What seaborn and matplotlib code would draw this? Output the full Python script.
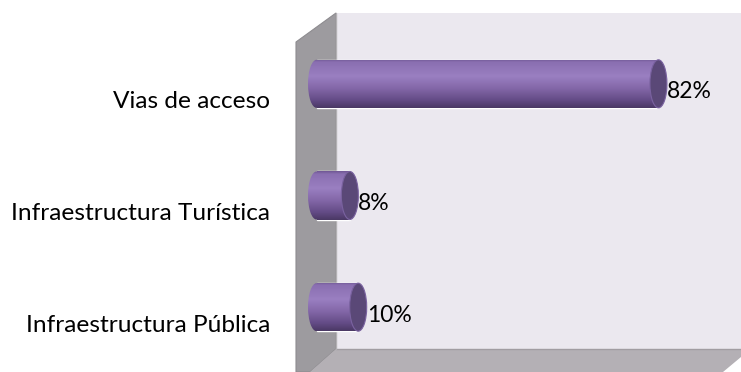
import numpy as np
import matplotlib
matplotlib.use("Agg")
import matplotlib.pyplot as plt
from matplotlib.patches import Polygon, Ellipse
from matplotlib.colors import LinearSegmentedColormap
from matplotlib.transforms import ScaledTranslation
import seaborn as sns

# Data
categories = ["Vias de acceso", "Infraestructura Turística", "Infraestructura Pública"]
values = [82, 8, 10]
value_labels = ["82%", "8%", "10%"]

sns.set_theme(style="white")
plt.rcParams["font.family"] = ["Lato", "DejaVu Sans"]

W, H = 741, 372
fig = plt.figure(figsize=(W / 100, H / 100), dpi=100)

# Background layer in pixel units: back wall, side wall and floor of the 3D box
bg = fig.add_axes([0, 0, 1, 1], zorder=0)
bg.set_xlim(0, W)
bg.set_ylim(H, 0)
bg.axis("off")
back_wall = Polygon([(336, 13), (W, 13), (W, 349), (336, 349)], closed=True,
                    facecolor="#ebe8ef", edgecolor="none")
side_wall = Polygon([(296, 42), (336, 13), (336, 349), (310, 372), (296, 372)], closed=True,
                    facecolor="#9d9b9f", edgecolor="#8e8c90", linewidth=0.8)
floor = Polygon([(336, 349), (W, 349), (W, 357), (723, 372), (310, 372)], closed=True,
                facecolor="#b4b0b5", edgecolor="none")
for p in (back_wall, side_wall, floor):
    bg.add_patch(p)
bg.plot([336, W], [349, 349], color="#a19da2", linewidth=1.0)
bg.plot([336, 336], [13, 349], color="#b3b1b4", linewidth=1.0)

# Plot axes: x in percent, 4.17 px per percent, zero at pixel 316.5
px_per_unit = 4.17
x0_px = 316.5
ax_left_px = 290
ax_top_px, ax_bot_px = 28, 363
ax = fig.add_axes([ax_left_px / W, 1 - ax_bot_px / H, 1 - ax_left_px / W,
                   (ax_bot_px - ax_top_px) / H], zorder=1)
ax.patch.set_alpha(0)

bar_w = 0.43
sns.barplot(x=values, y=categories, orient="h", color="#8064a2", width=bar_w,
            ax=ax, saturation=1)

xmin = -(x0_px - ax_left_px) / px_per_unit
xmax = (W - x0_px) / px_per_unit
cap_w = 17 / px_per_unit

# cylinder shading across the bar height (top -> bottom)
cyl = LinearSegmentedColormap.from_list("cyl", [
    (0.00, "#6f5694"), (0.06, "#8a6fb1"), (0.35, "#9a7fc1"),
    (0.60, "#8367a8"), (0.85, "#624a84"), (1.00, "#4a3864")])
grad = np.linspace(0, 1, 256).reshape(-1, 1)

for i, (patch, v) in enumerate(zip(ax.patches, values)):
    ytop, ybot = i - bar_w / 2, i + bar_w / 2
    img = ax.imshow(grad, cmap=cyl, aspect="auto", origin="upper",
                    extent=(0, v, ybot, ytop), zorder=2, interpolation="bilinear")
    img.set_clip_path(patch)
    # rounded left end of the cylinder
    left = Ellipse((0, i), cap_w, bar_w, facecolor="none", edgecolor="none")
    ax.add_patch(left)
    img2 = ax.imshow(grad, cmap=cyl, aspect="auto", origin="upper",
                     extent=(-cap_w / 2, 0.05, ybot, ytop), zorder=2, interpolation="bilinear")
    img2.set_clip_path(left)
    # visible right end face
    ax.add_patch(Ellipse((v, i), cap_w, bar_w, facecolor="#5a4877", edgecolor="#7a62a0",
                         linewidth=0.8, zorder=3, clip_on=False))
    # value label
    off = ScaledTranslation(0, -8 / 100, fig.dpi_scale_trans)
    ax.text(v + cap_w / 2, i, value_labels[i], ha="left", va="center", fontsize=16.5,
            color="black", transform=ax.transData + off, zorder=4)

ax.set_xlim(xmin, xmax)
ax.set_ylim(2.5, -0.5)
ax.set_xticks([])
ax.set_xlabel("")
ax.set_ylabel("")
for s in ax.spines.values():
    s.set_visible(False)
ax.tick_params(axis="y", length=0, pad=(ax_left_px - 270) * 0.72, labelsize=17.6)
label_off = ScaledTranslation(0, -16 / 100, fig.dpi_scale_trans)
for lab in ax.get_yticklabels():
    lab.set_transform(lab.get_transform() + label_off)
    lab.set_color("black")

fig.savefig("out.png", dpi=100)
